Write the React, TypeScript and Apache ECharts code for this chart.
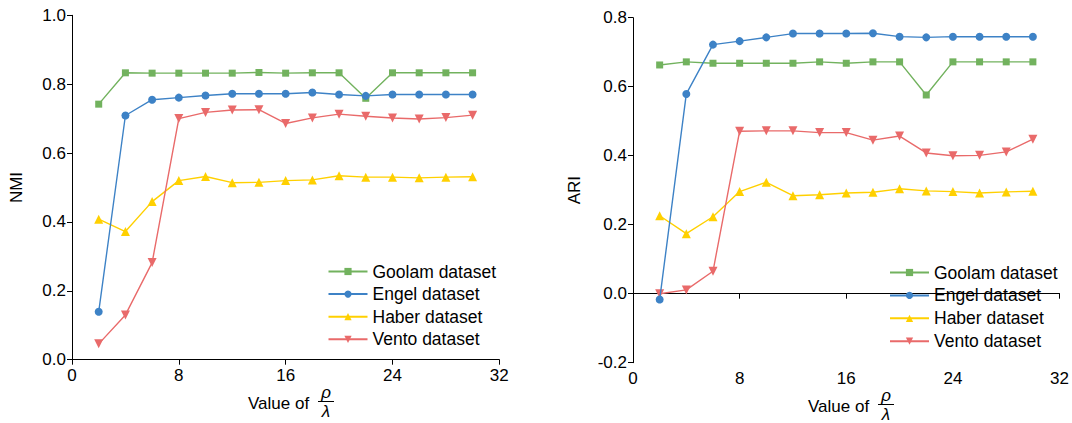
import React, { useEffect, useRef } from "react";
import * as echarts from "echarts";

const xValues = [2, 4, 6, 8, 10, 12, 14, 16, 18, 20, 22, 24, 26, 28, 30];
const seriesNames = ["Goolam dataset", "Engel dataset", "Haber dataset", "Vento dataset"];
const colors = ["#72b25e", "#3d82c6", "#ffd000", "#e96a6a"];
const symbols = ["rect", "circle", "triangle", "triangle"];
const symbolSizes = [7, 8, 9, 9];
const symbolRotates = [0, 0, 0, 180];

const nmiGoolam = [0.742, 0.833, 0.832, 0.832, 0.832, 0.832, 0.834, 0.832, 0.833, 0.833, 0.759, 0.833, 0.833, 0.833, 0.833];
const nmiEngel = [0.139, 0.709, 0.755, 0.761, 0.767, 0.772, 0.772, 0.772, 0.776, 0.770, 0.766, 0.770, 0.770, 0.770, 0.770];
const nmiHaber = [0.408, 0.372, 0.459, 0.520, 0.532, 0.514, 0.515, 0.520, 0.522, 0.534, 0.530, 0.530, 0.528, 0.530, 0.531];
const nmiVento = [0.046, 0.130, 0.282, 0.700, 0.718, 0.725, 0.726, 0.686, 0.702, 0.713, 0.707, 0.702, 0.699, 0.703, 0.710];

const ariGoolam = [0.663, 0.672, 0.668, 0.668, 0.668, 0.668, 0.672, 0.668, 0.672, 0.672, 0.576, 0.672, 0.672, 0.672, 0.672];
const ariEngel = [-0.017, 0.579, 0.722, 0.732, 0.743, 0.754, 0.754, 0.754, 0.755, 0.745, 0.743, 0.745, 0.745, 0.745, 0.745];
const ariHaber = [0.226, 0.174, 0.223, 0.296, 0.323, 0.284, 0.287, 0.292, 0.294, 0.304, 0.298, 0.296, 0.292, 0.295, 0.297];
const ariVento = [0.0, 0.011, 0.065, 0.471, 0.472, 0.472, 0.467, 0.467, 0.445, 0.457, 0.408, 0.400, 0.401, 0.411, 0.448];

const xTicks = { min: 0, max: 32, interval: 8 };
const nmiAxis = { name: "NMI", min: 0, max: 1, interval: 0.2 };
const ariAxis = { name: "ARI", min: -0.2, max: 0.8, interval: 0.2 };

const FONT = "'Liberation Sans', Arial, Helvetica, sans-serif";

export default function App() {
  const ref = useRef<HTMLDivElement>(null);

  useEffect(() => {
    document.body.style.margin = "0";
    const chart = echarts.init(ref.current!, null, { renderer: "svg" });

    const axisCommon = {
      axisLine: { show: true, lineStyle: { color: "#000", width: 1 } },
      axisTick: { show: true, inside: false, length: 5, lineStyle: { color: "#000" } },
      axisLabel: { color: "#000", fontSize: 17, fontFamily: FONT, margin: 6 },
      splitLine: { show: false },
    };

    const xAxisDef = (gridIndex: number) => ({
      type: "value",
      gridIndex,
      min: xTicks.min,
      max: xTicks.max,
      interval: xTicks.interval,
      ...axisCommon,
      axisLabel: { ...axisCommon.axisLabel, margin: 7 },
    });

    const yAxisDef = (gridIndex: number, ax: any, gap: number) => ({
      type: "value",
      gridIndex,
      min: ax.min,
      max: ax.max,
      interval: ax.interval,
      name: ax.name,
      nameLocation: "middle",
      nameRotate: 90,
      nameGap: gap,
      nameTextStyle: { color: "#000", fontSize: 17, fontFamily: FONT },
      ...axisCommon,
      axisLabel: {
        ...axisCommon.axisLabel,
        formatter: (v: number) => v.toFixed(1),
      },
    });

    const nmiData = [nmiGoolam, nmiEngel, nmiHaber, nmiVento];
    const ariData = [ariGoolam, ariEngel, ariHaber, ariVento];

    const mkSeries = (data: number[][], idx: number) =>
      data.map((vals, i) => ({
        type: "line",
        name: seriesNames[i],
        xAxisIndex: idx,
        yAxisIndex: idx,
        data: xValues.map((x, j) => [x, vals[j]]),
        symbol: symbols[i],
        symbolSize: symbolSizes[i],
        symbolRotate: symbolRotates[i],
        itemStyle: { color: colors[i] },
        lineStyle: { color: colors[i], width: 1.4 },
        z: i === 1 ? 3 : 2,
      }));

    const legendCommon = {
      orient: "vertical",
      padding: 0,
      itemWidth: 39,
      itemHeight: 9,
      textStyle: { color: "#000", fontSize: 17.5, fontFamily: FONT },
      data: seriesNames,
      selectedMode: false,
    };

    const fracText = (x0: number, yMid: number) => [
      {
        type: "text",
        left: x0,
        top: yMid - 9,
        style: { text: "Value of", fontSize: 17, fontFamily: FONT, fill: "#000" },
      },
      {
        type: "text",
        x: x0 + 78,
        y: yMid - 12,
        style: {
          text: "ρ",
          fontSize: 17,
          fontStyle: "italic",
          fontFamily: FONT,
          fill: "#000",
          align: "center",
          verticalAlign: "middle",
        },
      },
      {
        type: "line",
        shape: { x1: x0 + 70, y1: yMid - 2.5, x2: x0 + 86, y2: yMid - 2.5 },
        style: { stroke: "#000", lineWidth: 1 },
      },
      {
        type: "text",
        x: x0 + 78,
        y: yMid + 7,
        style: {
          text: "λ",
          fontSize: 17,
          fontStyle: "italic",
          fontFamily: FONT,
          fill: "#000",
          align: "center",
          verticalAlign: "middle",
        },
      },
    ];

    chart.setOption({
      animation: false,
      grid: [
        { left: 72, top: 15.3, width: 427.3, height: 344.4 },
        { left: 633, top: 17.7, width: 428.3, height: 345 },
      ],
      xAxis: [xAxisDef(0), xAxisDef(1)],
      yAxis: [yAxisDef(0, nmiAxis, 47), yAxisDef(1, ariAxis, 50)],
      legend: [
        { ...legendCommon, left: 327.5, top: 262.5, itemGap: 4.6 },
        { ...legendCommon, left: 889, top: 263.5, itemGap: 4.9 },
      ],
      series: [...mkSeries(nmiData, 0), ...mkSeries(ariData, 1)],
      graphic: [...fracText(248, 404), ...fracText(808, 407)],
    });

    return () => chart.dispose();
  }, []);

  return <div ref={ref} style={{ width: 1072, height: 423 }} />;
}
